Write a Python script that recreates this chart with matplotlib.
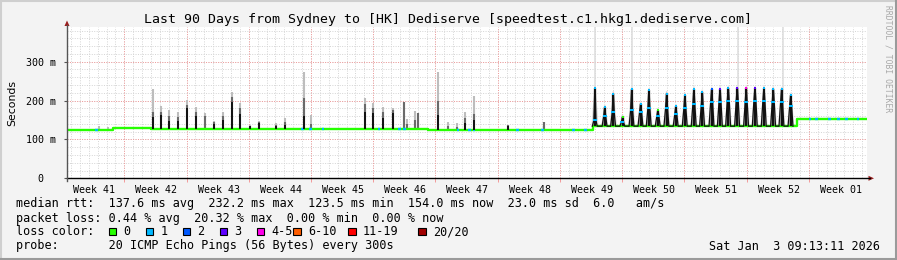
import matplotlib
matplotlib.use('Agg')
import matplotlib.pyplot as plt
import numpy as np
from matplotlib.patches import Rectangle, Polygon
from matplotlib.lines import Line2D

W, H = 897, 260
MONO = 'DejaVu Sans Mono'

# ---------------- data ----------------
title = "Last 90 Days from Sydney to [HK] Dediserve [speedtest.c1.hkg1.dediserve.com]"
span_days = 90
first_week_line = 6.45          # first week boundary (days from left edge)
week_labels = ["Week 41", "Week 42", "Week 43", "Week 44", "Week 45", "Week 46",
               "Week 47", "Week 48", "Week 49", "Week 50", "Week 51", "Week 52", "Week 01"]
y_ticks = [0, 100, 200, 300]
y_ticklabels = ["0  ", "100 m", "200 m", "300 m"]
y_max = 389

# baseline median (ms), piecewise constant
base_start = [0, 5.2, 9.5, 40.6, 59.2, 82.1]
base_end = [5.2, 9.5, 40.6, 59.2, 82.1, 90]
base_ms = [124, 130, 127, 124, 134, 153]

# isolated spikes: day, median peak, dark smoke top, light smoke top (ms)
spike_day = [3.6, 4.6, 9.64, 10.57, 11.47, 12.45, 13.5, 14.51, 15.56, 16.54, 17.55, 18.56,
             19.5, 20.59, 21.6, 23.5, 24.5, 26.66, 27.5, 33.5, 34.46, 35.58, 36.64, 37.94,
             38.25, 39.18, 39.52, 41.77, 42.9, 43.87, 44.77, 45.79, 49.64, 53.7]
spike_med = [124, 124, 158, 162, 147, 147, 180, 160, 127, 140, 150, 197,
             165, 134, 141, 135, 137, 160, 127, 171, 167, 154, 167, 127,
             127, 127, 127, 163, 124, 124, 141, 150, 134, 124]
spike_dark = [124, 124, 170, 170, 160, 158, 188, 170, 160, 144, 160, 210,
              180, 135, 144, 138, 145, 206, 140, 190, 180, 170, 175, 197,
              140, 150, 167, 200, 135, 132, 155, 165, 136, 144]
spike_smoke = [135, 133, 229, 186, 176, 171, 201, 184, 169, 147, 171, 223,
               193, 137, 147, 141, 154, 274, 163, 206, 193, 184, 182, 197,
               152, 174, 167, 274, 146, 141, 171, 211, 137, 144]

# periodic spike region: peak day, peak median, shoulder median, loss code at peak
cycle_day = [59.4, 60.5, 61.46, 62.5, 63.53, 64.54, 65.47, 66.48, 67.46, 68.5, 69.52,
             70.53, 71.47, 72.53, 73.47, 74.4, 75.41, 76.42, 77.4, 78.41, 79.46, 80.4, 81.42]
cycle_peak = [232, 183, 218, 158, 229, 192, 226, 175, 218, 185, 214,
              230, 222, 229, 230, 231, 232, 231, 231, 231, 230, 229, 214]
cycle_mid = [150, 160, 170, 145, 175, 170, 180, 160, 180, 165, 180,
             190, 185, 195, 195, 200, 200, 195, 200, 200, 195, 195, 185]
cycle_loss = [1, 1, 1, 0, 1, 1, 1, 0, 1, 1, 1,
              1, 1, 2, 3, 1, 3, 4, 3, 1, 1, 1, 1]
# very high single pings (light smoke to top)
outlier_day = [59.4, 63.6, 75.5, 80.5]
outlier_ms = [389, 389, 389, 389]

# short loss-1 episodes on the baseline
loss1_day = [3.3, 26.5, 27.4, 28.8, 35.1, 37.4, 38.0, 44.0, 45.3, 45.8, 50.7, 53.5,
             57.0, 58.3, 83.6, 84.3, 85.8, 86.8, 87.7, 89.0]

loss_colors = ['#26ff00', '#00b8ff', '#0059ff', '#5e00ff', '#ff00ea', '#ff5e00', '#ff0000', '#a10000']
loss_labels = ['0', '1', '2', '3', '4-5', '6-10', '11-19', '20/20']

legend_rtt = "median rtt:  137.6 ms avg  232.2 ms max  123.5 ms min  154.0 ms now  23.0 ms sd  6.0   am/s"
legend_loss = "packet loss: 0.44 % avg  20.32 % max  0.00 % min  0.00 % now"
probe_text = "probe:       20 ICMP Echo Pings (56 Bytes) every 300s"
date_text = "Sat Jan  3 09:13:11 2026"

# ---------------- figure ----------------
fig = plt.figure(figsize=(W / 100, H / 100), dpi=100, facecolor='#f3f3f3')

def fx(px):
    return px / W

def fy(py):
    return 1 - py / H

L, R, T, B = 67, 867, 27, 178.3
ax = fig.add_axes([fx(L), fy(B), (R - L) / W, (B - T) / H])
ax.set_facecolor('white')
ax.set_xlim(0, span_days)
ax.set_ylim(0, y_max)
for s in ax.spines.values():
    s.set_visible(False)

# grid
week_lines = [first_week_line + 7 * k for k in range(13) if first_week_line + 7 * k < span_days]
day_lines = [first_week_line - 6 + k for k in range(96) if 0 < first_week_line - 6 + k < span_days]
for d in day_lines:
    ax.axvline(d, color='#d4d4d4', lw=0.7, ls=(0, (1, 1.5)), zorder=0)
for v in range(20, y_max, 20):
    ax.axhline(v, color='#d4d4d4', lw=0.7, ls=(0, (1, 1.5)), zorder=0)
for d in week_lines:
    ax.axvline(d, color='#f29a9a', lw=0.7, ls=(0, (1, 1.5)), zorder=0.5)
for v in [100, 200, 300]:
    ax.axhline(v, color='#f29a9a', lw=0.7, ls=(0, (1, 1.5)), zorder=0.5)

def base_at(d):
    i = int(np.searchsorted(base_start, d, side='right')) - 1
    return base_ms[max(i, 0)]

# outlier light smoke
ax.vlines(outlier_day, [base_at(d) for d in outlier_day], outlier_ms, color='#dcdcdc', lw=1.1, zorder=1)

# isolated spikes
sb = [base_at(d) for d in spike_day]
ax.vlines(spike_day, sb, spike_smoke, color='#bdbdbd', lw=1.5, zorder=2)
ax.vlines(spike_day, sb, spike_dark, color='#6a6a6a', lw=1.5, zorder=2.1)

# periodic region smoke
for d, pk in zip(cycle_day, cycle_peak):
    b = base_at(d)
    poly = Polygon([(d - 0.4, b), (d - 0.08, pk + 6), (d + 0.08, pk + 6), (d + 0.4, b)],
                   closed=True, facecolor='#dadada', edgecolor='none', zorder=1.5)
    ax.add_patch(poly)
    poly2 = Polygon([(d - 0.2, b), (d - 0.03, pk - 5), (d + 0.03, pk - 5), (d + 0.2, b)],
                    closed=True, facecolor='#9a9a9a', edgecolor='none', zorder=1.6)
    ax.add_patch(poly2)

# baseline median (green step line)
bx = list(base_start) + [base_end[-1]]
by = list(base_ms) + [base_ms[-1]]
ax.plot(bx, by, drawstyle='steps-post', color=loss_colors[0], lw=1.7, zorder=3, solid_capstyle='butt')

# loss-1 segments on the baseline
for d in loss1_day:
    b = base_at(d)
    ax.plot([d - 0.15, d + 0.15], [b, b], color=loss_colors[1], lw=1.7, zorder=3.2, solid_capstyle='butt')

# isolated spike medians
ax.vlines(spike_day, sb, spike_med, color='#111111', lw=1.4, zorder=4)

# periodic median polyline
px, py = [], []
for d, pk, mid in zip(cycle_day, cycle_peak, cycle_mid):
    b = base_at(d)
    px += [d - 0.3, d - 0.12, d - 0.02, d + 0.02, d + 0.1, d + 0.25]
    py += [b, mid, pk, pk, mid, b]
ax.plot(px, py, color='#111111', lw=0.9, zorder=4)
ax.vlines(cycle_day, [base_at(d) for d in cycle_day], cycle_peak, color='#111111', lw=1.6, zorder=4.1)
for d, pk, mid, lc in zip(cycle_day, cycle_peak, cycle_mid, cycle_loss):
    ax.plot([d], [pk], marker='s', ms=2.0, mew=0, color=loss_colors[lc], zorder=5)
    ax.plot([d - 0.12, d + 0.1], [mid, mid], ls='none', marker='s', ms=1.8, mew=0,
            color=loss_colors[1], zorder=5)

# ticks
ax.set_xticks([first_week_line - 7 + 7 * k + 3.6 for k in range(len(week_labels))])
ax.set_xticklabels(week_labels, family=MONO, fontsize=7.2)
ax.set_xticks(week_lines, minor=True)
ax.tick_params(axis='x', which='major', length=0, pad=5)
ax.tick_params(axis='x', which='minor', length=3, color='#f29a9a', width=0.7)
ax.set_yticks(y_ticks)
ax.set_yticklabels(y_ticklabels, family=MONO, fontsize=7.2)
ax.tick_params(axis='y', which='major', length=2, color='#555555', width=0.8, pad=6)
fig.text(fx(12), fy(103), 'Seconds', family='DejaVu Sans', fontsize=7.8, rotation=90,
         ha='center', va='center')

# axis lines + arrows
fig.add_artist(Line2D([fx(L), fx(870)], [fy(B), fy(B)], color='#000000', lw=1.0))
fig.add_artist(Line2D([fx(L), fx(L)], [fy(B + 3), fy(25)], color='#555555', lw=1.0))
fig.add_artist(Polygon([(fx(868.5), fy(175.8)), (fx(874), fy(B)), (fx(868.5), fy(180.8))],
                       closed=True, facecolor='#9b1c1c', edgecolor='none'))
fig.add_artist(Polygon([(fx(64.5), fy(26)), (fx(L), fy(20.5)), (fx(69.5), fy(26))],
                       closed=True, facecolor='#9b1c1c', edgecolor='none'))

# title & texts
fig.text(fx(448), fy(19), title, family=MONO, fontsize=9.5, ha='center', va='center', color='#000000')
fig.text(fx(888), fy(5), "RRDTOOL / TOBI OETIKER", family=MONO, fontsize=5.8,
         rotation=270, ha='center', va='top', color='#a8a8a8')
fig.text(fx(16), fy(204), legend_rtt, family=MONO, fontsize=8.5, ha='left', va='center')
fig.text(fx(16), fy(218.3), legend_loss, family=MONO, fontsize=8.5, ha='left', va='center')
fig.text(fx(16), fy(231.7), "loss color:", family=MONO, fontsize=8.5, ha='left', va='center')
swatch_x = [108.7, 145.7, 182.7, 220, 256.7, 293.3, 348.3, 418.3]
for sx, c, lab in zip(swatch_x, loss_colors, loss_labels):
    fig.add_artist(Rectangle((fx(sx), fy(235.4)), 7.3 / W, 7.3 / H, facecolor=c,
                             edgecolor='black', lw=0.8))
    fig.text(fx(sx + 14.6), fy(231.7), lab, family=MONO, fontsize=8.5, ha='left', va='center')
fig.text(fx(16), fy(246), probe_text, family=MONO, fontsize=8.5, ha='left', va='center')
fig.text(fx(880), fy(246), date_text, family=MONO, fontsize=8.5, ha='right', va='center')

# frame shading
fig.add_artist(Line2D([0, 1], [fy(0.5), fy(0.5)], color='#cfcfcf', lw=1.5))
fig.add_artist(Line2D([fx(0.5), fx(0.5)], [0, 1], color='#cfcfcf', lw=1.5))
fig.add_artist(Line2D([0, 1], [fy(259.3), fy(259.3)], color='#9a9a9a', lw=1.5))
fig.add_artist(Line2D([fx(896.3), fx(896.3)], [0, 1], color='#9a9a9a', lw=1.5))

fig.savefig('out.png', dpi=100, facecolor=fig.get_facecolor())
